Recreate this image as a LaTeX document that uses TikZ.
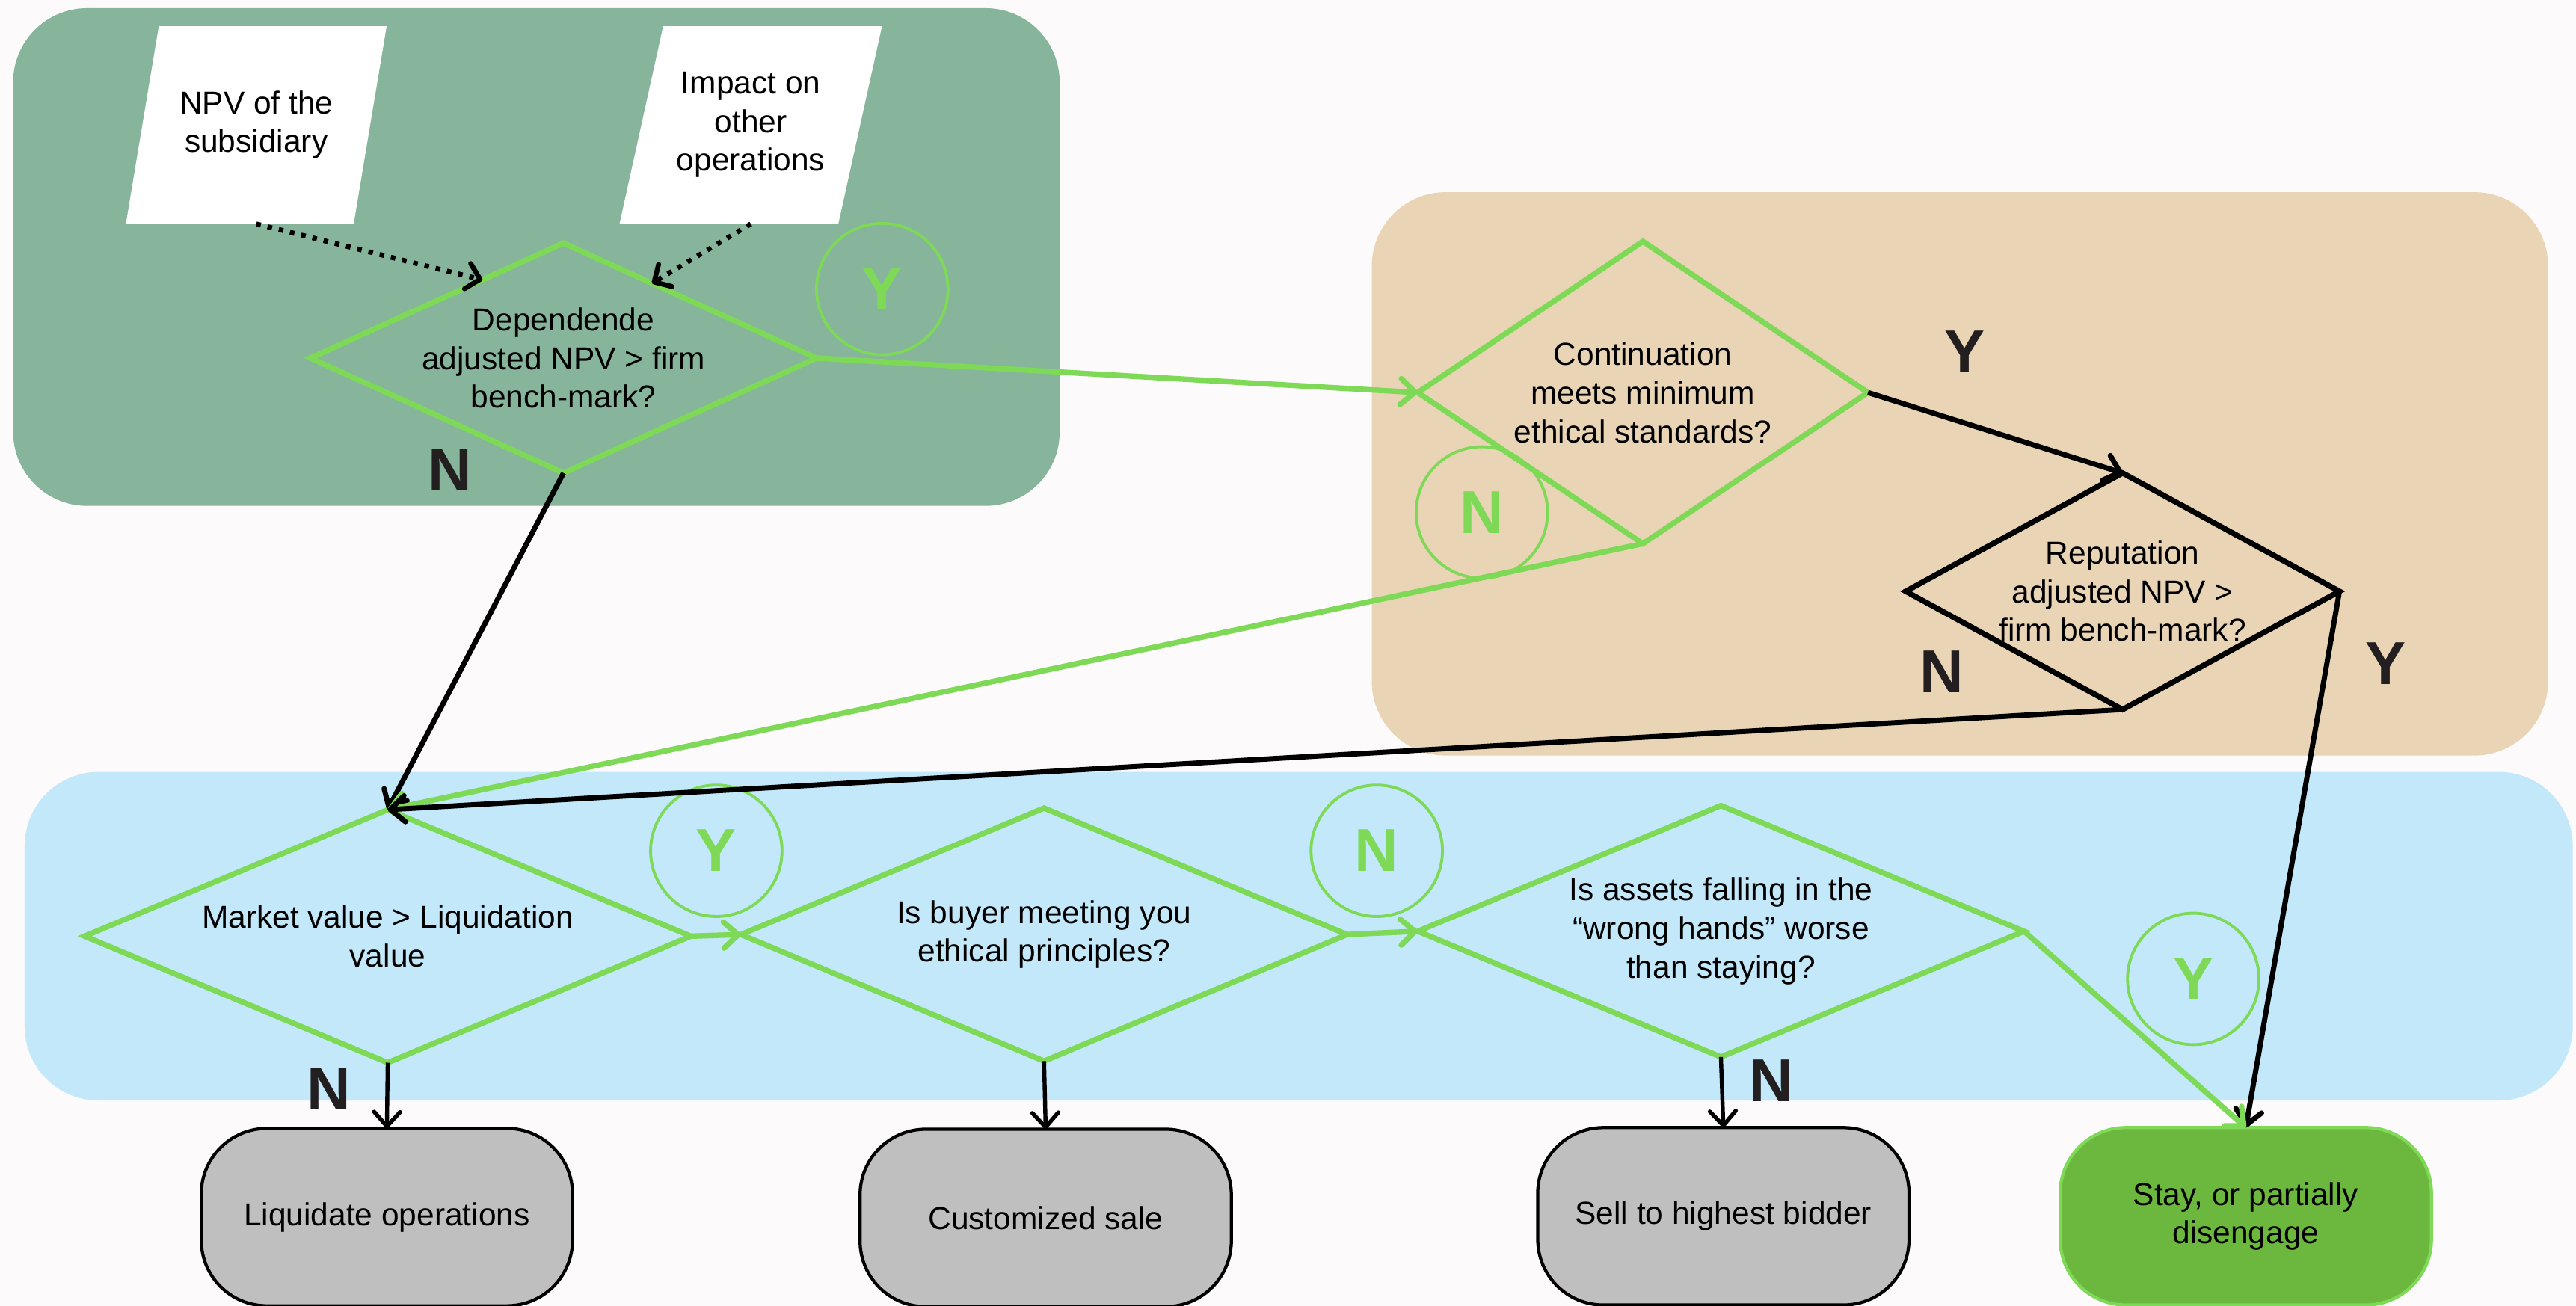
\documentclass[tikz,border=0pt]{standalone}
\usepackage{fontspec}
\setmainfont{Liberation Sans}
\usetikzlibrary{shapes.geometric, arrows.meta, calc}

\definecolor{pagebg}{HTML}{FCFAFA}
\definecolor{areagreen}{HTML}{86B59C}
\definecolor{areatan}{HTML}{E9D4B5}
\definecolor{areablue}{HTML}{C2E8FA}
\definecolor{linegreen}{HTML}{7ED957}
\definecolor{boxgray}{HTML}{BFBFBF}
\definecolor{staygreen}{HTML}{6CB83E}
\definecolor{ink}{HTML}{231F20}

\begin{document}
\begin{tikzpicture}[
        font=\fontsize{11}{13.4}\selectfont,
        decision/.style={diamond, draw=linegreen, line width=1.9pt, inner sep=-5pt, outer sep=0pt, align=center},
        inputbox/.style={trapezium, trapezium left angle=71.6, trapezium right angle=108.4, trapezium stretches=true, fill=white, minimum width=3.2cm, minimum height=2.4cm, align=center},
        endbox/.style={rectangle, rounded corners=0.8cm, draw=black, line width=1.1pt, fill=boxgray, minimum width=4.52cm, minimum height=2.16cm, align=center, outer sep=0pt},
        ring/.style={circle, draw=linegreen, line width=1pt, minimum size=1.6cm, text=linegreen, font=\fontsize{21}{21}\selectfont\bfseries},
        answer/.style={text=ink, font=\fontsize{21}{21}\selectfont\bfseries},
        gline/.style={draw=linegreen, line width=1.9pt, -{Straight Barb[round, length=5pt, width=9pt]}},
        bline/.style={draw=black, line width=1.8pt, -{Straight Barb[round, length=5pt, width=9pt]}},
        downline/.style={draw=black, line width=1.4pt, -{Straight Barb[round, length=5pt, width=9pt]}},
        dotline/.style={draw=black, line width=1.7pt, dash pattern=on 1.6pt off 2.4pt, -{Straight Barb[round, length=4.5pt, width=9pt]}}
    ]
    \clip (0,0) rectangle (31.36,15.9);
    % backgrounds
    \fill[pagebg] (0,0) rectangle (31.36,15.9);
    \fill[areagreen, rounded corners=0.9cm] (0.16,9.74) rectangle (12.9,15.8);
    \fill[areatan, rounded corners=0.9cm] (16.7,6.7) rectangle (31.02,13.56);
    \fill[areablue, rounded corners=0.9cm] (0.3,2.5) rectangle (31.32,6.5);

    \path
        (3.12, 14.38) node[inputbox] (npv) {NPV of the\\subsidiary}
        (9.14, 14.38) node[inputbox] (impact) {Impact on\\other\\operations}
        (6.86, 11.54) node[decision, aspect=2.2, minimum width=6.16cm, minimum height=2.8cm] (dep) {Dependende\\adjusted NPV > firm\\bench-mark?}
        (20.0, 11.12) node[decision, aspect=1.49, minimum width=5.48cm, minimum height=3.68cm] (ethic) {Continuation\\meets minimum\\ethical standards?}
        (25.84, 8.70) node[decision, draw=black, aspect=1.83, minimum width=5.28cm, minimum height=2.88cm] (repu) {Reputation\\adjusted NPV >\\firm bench-mark?}
        (4.72, 4.50) node[decision, aspect=2.4, minimum width=7.38cm, minimum height=3.08cm] (market) {Market value > Liquidation\\value}
        (12.71, 4.52) node[decision, aspect=2.4, minimum width=7.38cm, minimum height=3.08cm] (buyer) {Is buyer meeting you\\ethical principles?}
        (20.95, 4.56) node[decision, aspect=2.4, minimum width=7.38cm, minimum height=3.06cm] (hands) {Is assets falling in the\\“wrong hands” worse\\than staying?}
        (4.71, 1.08) node[endbox] (liquidate) {Liquidate operations}
        (12.73, 1.07) node[endbox] (custom) {Customized sale}
        (20.98, 1.09) node[endbox] (bidder) {Sell to highest bidder}
        (27.34, 1.09) node[endbox, fill=staygreen, draw=linegreen] (stay) {Stay, or partially\\disengage}
    ;

    % answer marks
    \path
        (10.74, 12.38) node[ring] (ringY1) {Y}
        (18.04, 9.66) node[ring] (ringN1) {N}
        (8.72, 5.54) node[ring] (ringY2) {Y}
        (16.76, 5.54) node[ring] (ringN2) {N}
        (26.70, 3.98) node[ring] (ringY3) {Y}
        (5.48, 10.18) node[answer] (ansN1) {N}
        (23.92, 11.62) node[answer] (ansY1) {Y}
        (23.64, 7.72) node[answer] (ansN2) {N}
        (29.04, 7.82) node[answer] (ansY2) {Y}
        (4.00, 2.64) node[answer] (ansN3) {N}
        (21.56, 2.74) node[answer] (ansN4) {N}
    ;

    \draw[dotline] (npv.south) -- ($(dep.west)!0.68!(dep.north)$);
    \draw[dotline] (impact.south) -- ($(dep.north)!0.35!(dep.east)$);
    \draw[gline] (dep.east) -- (ethic.west);
    \draw[bline] (ethic.east) -- (repu.north);
    \draw[bline] (dep.south) -- (market.north);
    \draw[gline] (ethic.south) -- (market.north);
    \draw[bline] (repu.south) -- (market.north);
    \draw[bline] (repu.east) -- (stay.north);
    \draw[gline] (market.east) -- (buyer.west);
    \draw[gline] (buyer.east) -- (hands.west);
    \draw[gline] (hands.east) -- (stay.north);
    \draw[downline] (market.south) -- (liquidate.north);
    \draw[downline] (buyer.south) -- (custom.north);
    \draw[downline] (hands.south) -- (bidder.north);

\end{tikzpicture}
\end{document}
